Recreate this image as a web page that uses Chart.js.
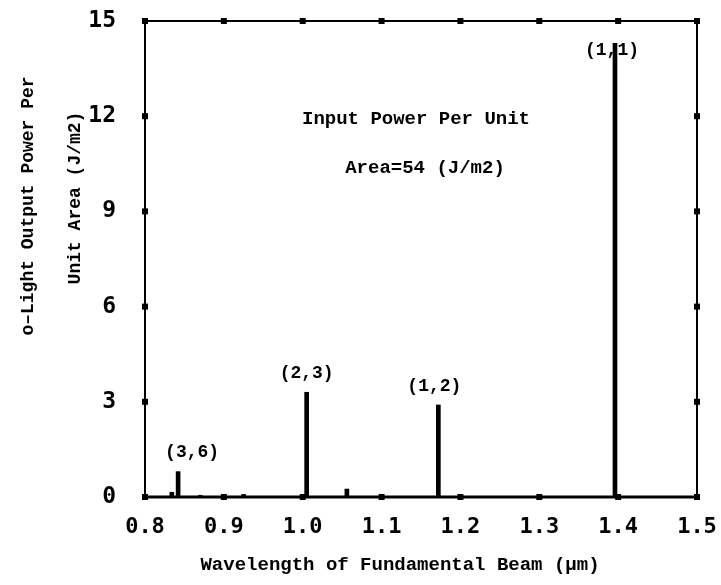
<!DOCTYPE html>
<html>
<head>
<meta charset="utf-8">
<script src="https://cdn.jsdelivr.net/npm/chart.js@4.4.1/dist/chart.umd.min.js"></script>
<style>
  body { margin: 0; background: #fff; }
  #wrap { width: 721px; height: 585px; }
</style>
</head>
<body>
<div id="wrap"><canvas id="chart"></canvas></div>
<script>
// wavelengths (um) and output power per unit area (J/m2)
const wavelengths = [0.834, 0.842, 0.870, 0.925, 1.005, 1.056, 1.172, 1.396];
const outputPower = [0.15, 0.8, 0.05, 0.08, 3.3, 0.25, 2.9, 14.3];

// labelled peaks
const peakNames = ['(3,6)', '(2,3)', '(1,2)', '(1,1)'];
const peakWaves = [0.842, 1.005, 1.172, 1.396];
const peakPower = [0.8, 3.3, 2.9, 14.3];

const xTicks = [0.8, 0.9, 1.0, 1.1, 1.2, 1.3, 1.4, 1.5];
const yTicks = [0, 3, 6, 9, 12, 15];

const xTitle = 'Wavelength of Fundamental Beam (\u03bcm)';
const yTitle = ['o\u2013Light Output Power Per', 'Unit Area (J/m2)'];
const noteLines = ['Input Power Per Unit', 'Area=54 (J/m2)'];

const FONT = '"Liberation Mono", "DejaVu Sans Mono", monospace';
const TICK_FONT = '"DejaVu Sans Mono", "Liberation Mono", monospace';

const points = wavelengths.map((w, i) => ({ x: w, y: outputPower[i] }));

// frame, tick squares, titles and peak labels
const decorations = {
    id: 'decorations',
    afterDraw(chart) {
        const ctx = chart.ctx;
        const a = chart.chartArea;
        const xs = chart.scales.x, ys = chart.scales.y;
        ctx.save();
        ctx.strokeStyle = '#000';
        ctx.lineWidth = 2;
        ctx.strokeRect(a.left, a.top, a.right - a.left, a.bottom - a.top);
        ctx.lineWidth = 3;
        ctx.beginPath();
        ctx.moveTo(a.left, a.bottom);
        ctx.lineTo(a.right, a.bottom);
        ctx.stroke();

        ctx.fillStyle = '#000';
        xTicks.forEach(v => {
            const px = xs.getPixelForValue(v);
            ctx.fillRect(px - 3, a.bottom - 3, 6, 6);
            ctx.fillRect(px - 3, a.top - 3, 6, 6);
        });
        yTicks.forEach(v => {
            const py = ys.getPixelForValue(v);
            ctx.fillRect(a.left - 3, py - 3, 6, 6);
            ctx.fillRect(a.right - 3, py - 3, 6, 6);
        });

        ctx.textAlign = 'center';
        ctx.textBaseline = 'middle';
        ctx.font = 'bold 19px ' + FONT;
        ctx.fillText(xTitle, 400, 565);

        ctx.save();
        ctx.translate(28, 206);
        ctx.rotate(-Math.PI / 2);
        ctx.font = 'bold 18px ' + FONT;
        ctx.fillText(yTitle[0], 0, 0);
        ctx.restore();
        ctx.save();
        ctx.translate(75, 198);
        ctx.rotate(-Math.PI / 2);
        ctx.font = 'bold 18px ' + FONT;
        ctx.fillText(yTitle[1], 0, 0);
        ctx.restore();

        ctx.font = 'bold 19px ' + FONT;
        ctx.fillText(noteLines[0], 416, 119);
        ctx.fillText(noteLines[1], 425, 168);

        ctx.font = 'bold 18px ' + FONT;
        peakNames.forEach((name, i) => {
            const px = xs.getPixelForValue(peakWaves[i]);
            const py = ys.getPixelForValue(peakPower[i]);
            const dx = i === 0 ? 14 : (i === 2 ? -4 : (i === 3 ? -3 : 0));
            const dy = i === 3 ? 7 : -19;
            ctx.fillText(name, px + dx, py + dy);
        });
        ctx.restore();
    }
};

new Chart(document.getElementById('chart'), {
    type: 'bar',
    data: {
        datasets: [{
            data: points,
            backgroundColor: '#000',
            borderWidth: 0,
            barThickness: 4,
            grouped: false
        }]
    },
    options: {
        responsive: true,
        maintainAspectRatio: false,
        animation: false,
        layout: { padding: { top: 21, right: 24, left: 0, bottom: 0 } },
        plugins: { legend: { display: false }, tooltip: { enabled: false } },
        scales: {
            x: {
                type: 'linear',
                min: 0.8,
                max: 1.5,
                offset: false,
                grid: { display: false },
                border: { display: false },
                ticks: {
                    stepSize: 0.1,
                    color: '#000',
                    padding: 9,
                    maxRotation: 0,
                    font: { family: TICK_FONT, size: 22, weight: 'bold' },
                    callback: v => v.toFixed(1)
                },
                afterFit: s => { s.height = 88; s.paddingLeft = 0; s.paddingRight = 0; }
            },
            y: {
                min: 0,
                max: 15,
                grid: { display: false },
                border: { display: false },
                ticks: {
                    stepSize: 3,
                    color: '#000',
                    padding: 21,
                    font: { family: TICK_FONT, size: 23, weight: 'bold' }
                },
                afterFit: s => { s.width = 145; s.paddingTop = 0; s.paddingBottom = 0; }
            }
        }
    },
    plugins: [decorations]
});
</script>
</body>
</html>
